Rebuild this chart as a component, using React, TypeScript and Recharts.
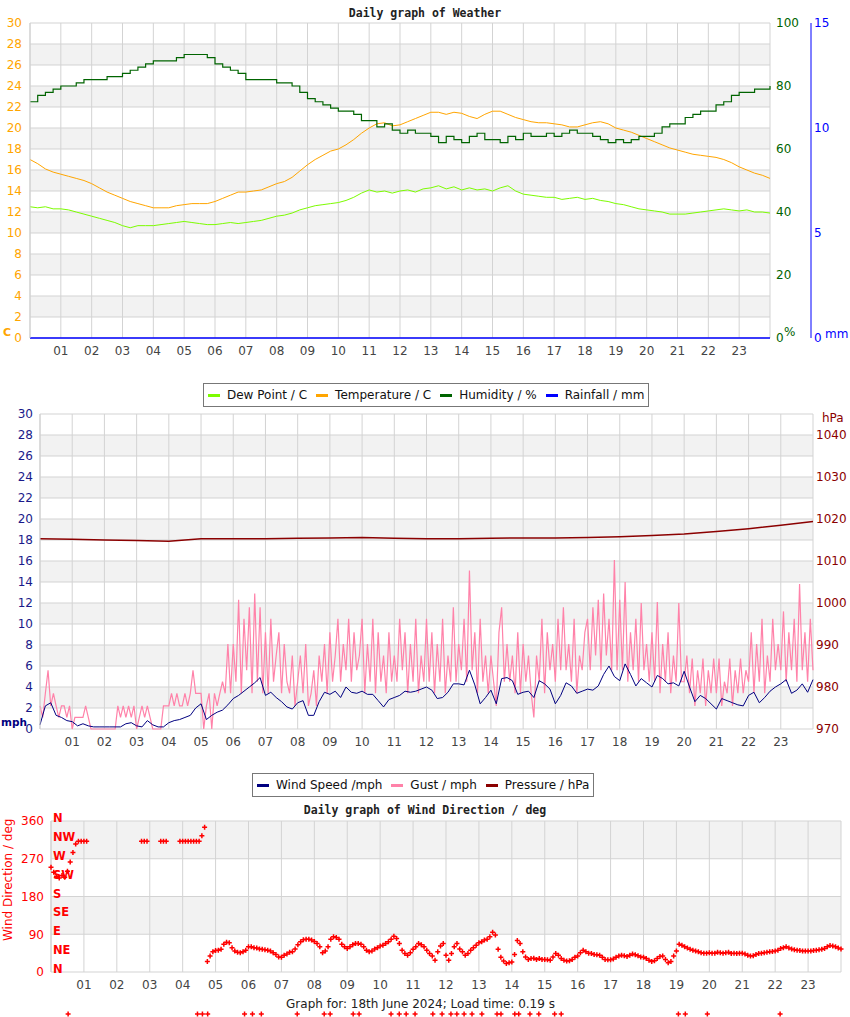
import React from 'react';
import { LineChart, Line, ComposedChart, Scatter, ScatterChart, XAxis, YAxis, CartesianGrid } from 'recharts';

const FONT = 'DejaVu Sans';

const hourTicks = [0, 1, 2, 3, 4, 5, 6, 7, 8, 9, 10, 11, 12, 13, 14, 15, 16, 17, 18, 19, 20, 21, 22, 23, 24];
const hourLabel = (h: number) => (h <= 0 || h >= 24 ? '' : String(h).padStart(2, '0'));

// weather, one reading every 15 minutes, 00:00 .. 24:00
const temperature = [
  17.0, 16.6, 16.1, 15.8, 15.6, 15.4, 15.2, 15.0, 14.7, 14.3, 13.9, 13.6,
  13.3, 13.0, 12.8, 12.6, 12.4, 12.4, 12.4, 12.6, 12.7, 12.8, 12.8, 12.8,
  13.0, 13.3, 13.6, 13.9, 13.9, 14.0, 14.1, 14.4, 14.7, 14.9, 15.3, 15.9,
  16.5, 17.0, 17.4, 17.8, 18.0, 18.4, 18.9, 19.5, 20.0, 20.4, 20.5, 20.2,
  20.3, 20.6, 20.9, 21.2, 21.5, 21.5, 21.3, 21.5, 21.4, 21.1, 20.9, 21.3,
  21.6, 21.6, 21.3, 21.0, 20.8, 20.6, 20.5, 20.5, 20.4, 20.3, 20.1, 20.1,
  20.3, 20.5, 20.6, 20.4, 20.0, 19.8, 19.6, 19.3, 19.0, 18.7, 18.4, 18.1,
  17.9, 17.7, 17.5, 17.4, 17.3, 17.2, 17.0, 16.7, 16.3, 16.0, 15.7, 15.5,
  15.2,
];
const humidity = [
  75, 77, 78, 79, 80, 80, 81, 82, 82, 82, 83, 83,
  84, 85, 86, 87, 88, 88, 88, 89, 90, 90, 90, 89,
  87, 86, 85, 84, 82, 82, 82, 82, 81, 81, 80, 78,
  76, 75, 74, 73, 72, 72, 71, 69, 69, 67, 68, 66,
  65, 66, 65, 65, 64, 62, 64, 63, 62, 64, 65, 63,
  63, 62, 64, 63, 65, 64, 64, 65, 64, 65, 66, 65,
  65, 64, 63, 62, 63, 62, 63, 64, 64, 65, 67, 68,
  68, 70, 71, 72, 72, 74, 75, 77, 78, 78, 79, 79,
  80,
];
const dewPoint = [
  12.5, 12.4, 12.5, 12.3, 12.3, 12.2, 12.0, 11.8, 11.6, 11.4, 11.2, 11.0,
  10.7, 10.5, 10.7, 10.7, 10.7, 10.8, 10.9, 11.0, 11.1, 11.0, 10.9, 10.8,
  10.8, 10.9, 11.0, 10.9, 11.0, 11.1, 11.2, 11.4, 11.6, 11.7, 11.9, 12.2,
  12.4, 12.6, 12.7, 12.8, 12.9, 13.1, 13.4, 13.8, 14.1, 13.9, 14.0, 13.8,
  14.0, 14.1, 13.9, 14.2, 14.3, 14.5, 14.2, 14.4, 14.1, 14.3, 14.1, 14.2,
  14.0, 14.3, 14.5, 14.0, 13.7, 13.6, 13.5, 13.4, 13.4, 13.2, 13.3, 13.4,
  13.2, 13.3, 13.1, 13.0, 12.8, 12.7, 12.5, 12.3, 12.2, 12.1, 12.0, 11.8,
  11.8, 11.8, 11.9, 12.0, 12.1, 12.2, 12.3, 12.2, 12.1, 12.2, 12.0, 12.0,
  11.9,
];
// hourly
const rainfall = [0, 0, 0, 0, 0, 0, 0, 0, 0, 0, 0, 0, 0, 0, 0, 0, 0, 0, 0, 0, 0, 0, 0, 0, 0];

// wind speed, one reading every 10 minutes
const windSpeed = [
  0.4, 2.2, 2.5, 1.3, 1.1, 0.8, 0.7, 0.3, 0.5, 0.3, 0.2, 0.2,
  0.2, 0.2, 0.2, 0.2, 0.5, 0.6, 0.3, 0.2, 0.8, 0.4, 0.2, 0.2,
  0.6, 0.8, 0.9, 1.1, 1.3, 2.0, 2.4, 0.9, 1.3, 1.6, 1.8, 2.3,
  2.9, 3.2, 3.6, 4.0, 4.4, 4.9, 3.2, 3.5, 3.0, 2.6, 2.1, 1.9,
  2.5, 2.7, 1.3, 1.3, 2.6, 3.5, 3.3, 3.6, 3.0, 4.0, 3.5, 3.4,
  3.6, 3.3, 3.3, 2.7, 2.1, 2.8, 3.0, 3.2, 3.6, 3.5, 3.6, 3.8,
  4.0, 3.7, 2.9, 3.0, 3.5, 4.3, 4.3, 4.2, 5.6, 4.2, 2.4, 3.0,
  3.7, 2.4, 4.8, 4.9, 4.6, 3.3, 3.5, 3.6, 3.0, 4.6, 4.3, 3.8,
  2.4, 3.2, 4.4, 4.1, 3.4, 3.6, 3.8, 3.7, 4.1, 5.2, 6.0, 5.0,
  4.6, 6.2, 5.2, 4.1, 4.8, 4.4, 4.0, 5.1, 4.8, 4.3, 4.4, 4.1,
  5.5, 4.0, 2.6, 3.2, 2.9, 2.4, 1.9, 2.9, 2.7, 2.5, 2.3, 2.2,
  3.2, 3.5, 2.5, 3.0, 3.6, 4.0, 4.3, 4.7, 3.4, 3.7, 4.3, 3.5,
  4.7,
];
// gust, one reading every 5 minutes
const gust = [
  2.2, 1.1, 3.4, 5.6, 2.2, 3.4, 2.2, 1.1, 2.2, 2.2, 1.1, 2.2,
  0, 1.1, 1.1, 1.1, 1.1, 2.2, 1.1, 0, 0, 0, 0, 0,
  0, 0, 0, 0, 0, 2.2, 1.1, 2.2, 1.1, 2.2, 1.1, 2.2,
  0, 1.1, 2.2, 1.1, 2.2, 1.1, 0, 0, 0, 0, 2.2, 2.2,
  2.2, 3.4, 2.2, 3.4, 2.2, 2.2, 3.4, 2.2, 3.4, 5.6, 3.4, 3.4,
  3.4, 0, 2.2, 3.4, 0, 3.4, 2.2, 3.4, 4.5, 3.4, 8.1, 3.4,
  8.1, 4.5, 12.3, 3.4, 10.5, 5.6, 11.6, 3.4, 12.9, 4.5, 11.6, 3.4,
  9.2, 3.4, 10.5, 4.5, 7.0, 9.2, 3.4, 8.1, 4.5, 3.4, 7.0, 2.2,
  4.5, 7.0, 3.4, 8.1, 2.2, 3.4, 5.6, 2.2, 7.0, 4.5, 8.1, 3.4,
  9.2, 4.5, 7.0, 10.5, 4.5, 8.1, 5.6, 10.5, 4.5, 9.2, 5.6, 7.0,
  10.5, 3.4, 8.1, 4.5, 10.5, 3.4, 9.2, 4.5, 7.0, 3.4, 9.2, 4.5,
  7.0, 4.5, 10.5, 5.6, 9.2, 3.4, 8.1, 4.5, 10.5, 3.4, 7.0, 4.5,
  10.5, 4.5, 9.2, 3.4, 8.1, 4.5, 10.5, 3.4, 7.0, 4.5, 11.6, 4.5,
  8.1, 5.6, 10.5, 4.5, 15.1, 5.6, 9.2, 3.4, 10.5, 4.5, 7.0, 3.4,
  7.0, 4.5, 2.2, 9.2, 11.6, 4.5, 8.1, 4.5, 7.0, 3.4, 9.2, 3.4,
  8.1, 4.5, 7.0, 3.4, 1.1, 7.0, 4.5, 10.5, 3.4, 9.2, 5.6, 8.1,
  4.5, 10.5, 5.6, 11.6, 5.6, 8.1, 4.5, 10.5, 3.4, 7.0, 5.6, 9.2,
  10.5, 5.6, 11.6, 7.0, 12.3, 5.6, 12.9, 7.0, 10.5, 5.6, 16.1, 5.6,
  12.3, 5.6, 14.0, 4.5, 9.2, 5.6, 10.5, 4.5, 12.0, 5.6, 8.1, 4.5,
  9.2, 4.5, 12.1, 3.4, 8.1, 4.5, 9.2, 3.4, 7.0, 4.5, 12.0, 4.5,
  4.5, 7.0, 3.4, 6.7, 2.2, 5.6, 3.4, 6.7, 2.2, 5.6, 3.4, 6.7,
  3.4, 6.7, 2.2, 4.5, 3.4, 6.7, 2.2, 5.6, 3.4, 6.7, 3.4, 5.6,
  4.5, 9.2, 3.4, 8.1, 4.5, 10.5, 3.4, 7.0, 4.5, 10.5, 5.6, 8.1,
  5.6, 11.2, 4.5, 9.2, 5.6, 10.5, 4.5, 13.8, 5.6, 9.2, 4.5, 10.5,
  5.6,
];
// hourly
const pressure = [
  1015.3, 1015.2, 1015.0, 1014.9, 1014.7, 1015.3, 1015.3, 1015.3, 1015.4, 1015.5,
  1015.6, 1015.4, 1015.3, 1015.3, 1015.4, 1015.5, 1015.5, 1015.6, 1015.8, 1016.1,
  1016.4, 1017.0, 1017.7, 1018.5, 1019.4,
];

// wind direction in degrees, every 5 minutes (null = no reading)
const windDir = [
  250, 238, 228, 224, 230, 226, 240, 262, 285, 305, 312, 312,
  312, 312, null, null, null, null, null, null, null, null, null, null,
  null, null, null, null, null, null, null, null, null, 312, 312, 312,
  null, null, null, null, 312, 312, 312, null, null, null, null, 312,
  312, 312, 312, 312, 312, 312, 312, 325, 345, 25, 38, 48,
  51, 52, 54, 66, 71, 70, 58, 50, 47, 46, 48, 52,
  60, 60, 58, 57, 55, 54, 53, 52, 50, 46, 42, 36,
  35, 40, 43, 47, 48, 55, 65, 72, 77, 78, 78, 76,
  73, 68, 60, 46, 50, 60, 78, 84, 82, 78, 66, 60,
  56, 60, 65, 68, 68, 66, 60, 52, 48, 50, 55, 58,
  62, 64, 68, 72, 78, 85, 80, 68, 52, 44, 40, 46,
  54, 60, 68, 65, 60, 52, 44, 38, 28, 48, 62, 68,
  40, 28, 44, 60, 68, 55, 48, 40, 44, 52, 58, 64,
  70, 72, 76, 78, 84, 95, 88, 54, 35, 26, 20, 22,
  24, 42, 75, 68, 48, 36, 30, 32, 33, 30, 32, 30,
  30, 29, 28, 36, 44, 40, 32, 28, 26, 27, 30, 35,
  38, 46, 52, 48, 45, 44, 42, 41, 40, 35, 30, 29,
  29, 31, 35, 38, 40, 39, 37, 40, 43, 41, 39, 36,
  35, 32, 28, 25, 27, 32, 37, 38, 30, 22, 25, 38,
  50, 66, 64, 60, 57, 54, 52, 50, 48, 46, 45, 45,
  46, 45, 45, 47, 46, 45, 46, 47, 44, 45, 44, 45,
  45, 43, 40, 38, 39, 42, 44, 45, 46, 47, 48, 49,
  50, 52, 56, 58, 60, 57, 55, 53, 52, 51, 50, 50,
  50, 50, 51, 52, 53, 54, 56, 60, 63, 62, 60, 57,
  55,
];
// hours with calm readings, drawn under the chart
const calmHours = [
  0.52, 4.45, 4.6, 4.76, 5.88, 6.12, 6.39, 7.48, 8.3, 8.48, 9.18, 9.36, 10.33, 10.58,
  10.79, 11.06, 11.6, 11.88, 12.15, 12.33, 12.55, 12.79, 13.09, 13.55, 13.67, 14.09,
  14.21, 14.55, 14.82, 15.3, 15.5, 19.06, 19.27, 19.94, 22.15,
];
const compass = ['N', 'NE', 'E', 'SE', 'S', 'SW', 'W', 'NW', 'N'];

const weatherLegend = [
  { name: 'Dew Point / C', color: '#7CFC00' },
  { name: 'Temperature / C', color: '#FFA500' },
  { name: 'Humidity / %', color: '#006400' },
  { name: 'Rainfall / mm', color: '#0000FF' },
];
const windLegend = [
  { name: 'Wind Speed /mph', color: '#000080' },
  { name: 'Gust / mph', color: '#FF82A9' },
  { name: 'Pressure / hPa', color: '#8B0000' },
];

const weatherRows = temperature.map((v, i) => ({ t: i / 4, temp: v, hum: humidity[i], dew: dewPoint[i] }));
const rainRows = rainfall.map((v, i) => ({ t: i, rain: v }));
const windRows = windSpeed.map((v, i) => ({ t: i / 6, speed: v }));
const gustRows = gust.map((v, i) => ({ t: i / 12, gust: v }));
const pressureRows = pressure.map((v, i) => ({ t: i, p: v }));
const dirRows = windDir.map((d, i) => ({ t: i / 12, d })).filter((r) => r.d !== null);
const calmRows = calmHours.map((t) => ({ t, y: 0.5 }));

const xTick = { fill: '#444', fontSize: 12 };

function Cross(props: any) {
  const { cx, cy } = props;
  if (cx == null || cy == null) return null;
  return <path d={`M${cx - 2.5},${cy}h5M${cx},${cy - 2.5}v5`} stroke="#FF0000" strokeWidth={1.5} fill="none" />;
}

function CompassTick(props: any) {
  const { x, y, payload } = props;
  return (
    <text x={x} y={y - 3} dy="0.35em" textAnchor="start" fill="#FF0000" fontSize={11.5} fontWeight="bold">
      {compass[Math.round(payload.value / 45)]}
    </text>
  );
}

function Txt({ left, top, style, children }: any) {
  return (
    <div style={{ position: 'absolute', left, top, lineHeight: '12px', whiteSpace: 'nowrap', ...style }}>{children}</div>
  );
}

function LegendBox({ items, left, top }: any) {
  return (
    <div
      style={{
        position: 'absolute', left, top, height: 22, border: '1px solid #777', background: '#fff',
        display: 'flex', alignItems: 'center', gap: 9, padding: '0 4px', fontSize: 12, color: '#111',
      }}
    >
      {items.map((it: any) => (
        <span key={it.name} style={{ display: 'flex', alignItems: 'center' }}>
          <span style={{ width: 12, height: 3, background: it.color, marginRight: 7 }} />
          {it.name}
        </span>
      ))}
    </div>
  );
}

function WeatherChart() {
  return (
    <LineChart width={850} height={370} data={weatherRows} margin={{ top: 23, right: 0, bottom: 0, left: 0 }} style={{ fontFamily: FONT }}>
      <CartesianGrid stroke="#d3d3d3" horizontalFill={['#ffffff', '#f2f2f2']} fillOpacity={1} />
      <XAxis type="number" dataKey="t" domain={[0, 24]} ticks={hourTicks} interval={0} tickFormatter={hourLabel}
        tickLine={false} axisLine={false} height={32} tick={xTick} />
      <YAxis domain={[0, 30]} ticks={[0, 2, 4, 6, 8, 10, 12, 14, 16, 18, 20, 22, 24, 26, 28, 30]} interval={0} width={30}
        tickLine={false} axisLine={{ stroke: '#cfcfcf' }} tick={{ fill: '#FFA500', fontSize: 12 }} />
      <YAxis yAxisId="hum" orientation="right" domain={[0, 100]} ticks={[0, 20, 40, 60, 80, 100]} interval={0} width={41}
        tickLine={false} axisLine={false} tickSize={4} tickMargin={2} tick={{ fill: '#006400', fontSize: 12 }} />
      <YAxis yAxisId="rain" orientation="right" domain={[0, 15]} ticks={[0, 5, 10, 15]} interval={0} width={39}
        tickLine={false} axisLine={{ stroke: '#0000FF' }} tickSize={1} tickMargin={2} tick={{ fill: '#0000FF', fontSize: 12 }} />
      <Line dataKey="dew" stroke="#7CFC00" strokeWidth={1} dot={false} isAnimationActive={false} />
      <Line dataKey="temp" stroke="#FFA500" strokeWidth={1} dot={false} isAnimationActive={false} />
      <Line dataKey="hum" yAxisId="hum" type="stepAfter" stroke="#006400" strokeWidth={1.2} dot={false} isAnimationActive={false} />
      <Line data={rainRows} dataKey="rain" yAxisId="rain" stroke="#0000FF" strokeWidth={1.5} dot={false} isAnimationActive={false} />
    </LineChart>
  );
}

function WindChart() {
  return (
    <LineChart width={850} height={360} data={windRows} margin={{ top: 14, right: 0, bottom: 0, left: 0 }} style={{ fontFamily: FONT }}>
      <CartesianGrid stroke="#d3d3d3" horizontalFill={['#ffffff', '#f2f2f2']} fillOpacity={1} />
      <XAxis type="number" dataKey="t" domain={[0, 24]} ticks={hourTicks} interval={0} tickFormatter={hourLabel}
        tickLine={false} axisLine={false} height={31} tick={xTick} />
      <YAxis domain={[0, 30]} ticks={[0, 2, 4, 6, 8, 10, 12, 14, 16, 18, 20, 22, 24, 26, 28, 30]} interval={0} width={40}
        tickLine={false} axisLine={{ stroke: '#cfcfcf' }} tickSize={5} tick={{ fill: '#1a1a8a', fontSize: 12 }} />
      <YAxis yAxisId="p" orientation="right" domain={[970, 1045]} ticks={[970, 980, 990, 1000, 1010, 1020, 1030, 1040]} interval={0}
        width={37} tickLine={false} axisLine={false} tickSize={1} tickMargin={2} tick={{ fill: '#8B0000', fontSize: 12 }} />
      <Line data={gustRows} dataKey="gust" stroke="#FF82A9" strokeWidth={1.2} dot={false} isAnimationActive={false} />
      <Line dataKey="speed" stroke="#000080" strokeWidth={1} dot={false} isAnimationActive={false} />
      <Line data={pressureRows} dataKey="p" yAxisId="p" stroke="#8B0000" strokeWidth={1.5} dot={false} isAnimationActive={false} />
    </LineChart>
  );
}

function DirectionChart() {
  return (
    <ComposedChart width={850} height={202} margin={{ top: 21, right: 9, bottom: 0, left: 0 }} style={{ fontFamily: FONT }}>
      <CartesianGrid stroke="#d3d3d3" horizontalFill={['#f2f2f2', '#ffffff']} fillOpacity={1} />
      <XAxis type="number" dataKey="t" domain={[0, 24]} ticks={hourTicks} interval={0} tickFormatter={hourLabel}
        tickLine={false} axisLine={false} height={30} tick={xTick} />
      <YAxis type="number" domain={[0, 360]} ticks={[0, 90, 180, 270, 360]} interval={0} width={51}
        tickLine={false} axisLine={{ stroke: '#cfcfcf' }} tickSize={5} tick={{ fill: '#FF0000', fontSize: 12 }} />
      <YAxis yAxisId="compass" mirror type="number" domain={[0, 360]} allowDataOverflow
        ticks={[0, 45, 90, 135, 180, 225, 270, 315, 360]} interval={0} width={30} tickLine={false} axisLine={false}
        tickSize={0} tickMargin={2} tick={<CompassTick />} />
      <Scatter data={dirRows} dataKey="d" shape={<Cross />} isAnimationActive={false} />
      <Scatter data={dirRows} dataKey="d" yAxisId="compass" shape={() => null} isAnimationActive={false} />
    </ComposedChart>
  );
}

function CalmRow() {
  return (
    <ScatterChart width={850} height={20} margin={{ top: 0, right: 9, bottom: 0, left: 51 }}>
      <XAxis type="number" dataKey="t" domain={[0, 24]} hide />
      <YAxis type="number" dataKey="y" domain={[0, 1]} hide />
      <Scatter data={calmRows} shape={<Cross />} isAnimationActive={false} />
    </ScatterChart>
  );
}

export default function App() {
  return (
    <div style={{ position: 'absolute', left: 0, top: 0, width: 850, height: 1017, background: '#fff', fontFamily: FONT, overflow: 'hidden' }}>
      <div style={{ position: 'absolute', left: 0, top: 0 }}><WeatherChart /></div>
      <div style={{ position: 'absolute', left: 0, top: 400 }}><WindChart /></div>
      <div style={{ position: 'absolute', left: 0, top: 800 }}><DirectionChart /></div>
      <div style={{ position: 'absolute', left: 0, top: 1004 }}><CalmRow /></div>

      <Txt left={0} top={7} style={{ width: 850, textAlign: 'center', fontFamily: 'DejaVu Sans Mono', fontWeight: 'bold', fontSize: 11.5, color: '#222' }}>
        Daily graph of Weather
      </Txt>
      <Txt left={3} top={327} style={{ fontWeight: 'bold', fontSize: 11, color: '#FFA500' }}>C</Txt>
      <Txt left={784} top={326} style={{ fontSize: 12, color: '#006400' }}>%</Txt>
      <Txt left={825} top={328} style={{ fontSize: 12, color: '#0000FF' }}>mm</Txt>
      <LegendBox items={weatherLegend} left={203} top={383} />

      <Txt left={1} top={716} style={{ fontWeight: 'bold', fontSize: 10.5, color: '#000080' }}>mph</Txt>
      <Txt left={822} top={412} style={{ fontSize: 12, color: '#8B0000' }}>hPa</Txt>
      <LegendBox items={windLegend} left={252} top={773} />

      <Txt left={0} top={804} style={{ width: 850, textAlign: 'center', fontFamily: 'DejaVu Sans Mono', fontWeight: 'bold', fontSize: 11.5, color: '#222' }}>
        Daily graph of Wind Direction / deg
      </Txt>
      <Txt left={-52} top={875} style={{ width: 120, textAlign: 'center', transform: 'rotate(-90deg)', fontSize: 12, color: '#FF0000' }}>
        Wind Direction / deg
      </Txt>
      <Txt left={0} top={998} style={{ width: 841, textAlign: 'center', fontSize: 12, color: '#222' }}>
        Graph for: 18th June 2024; Load time: 0.19 s
      </Txt>
    </div>
  );
}
